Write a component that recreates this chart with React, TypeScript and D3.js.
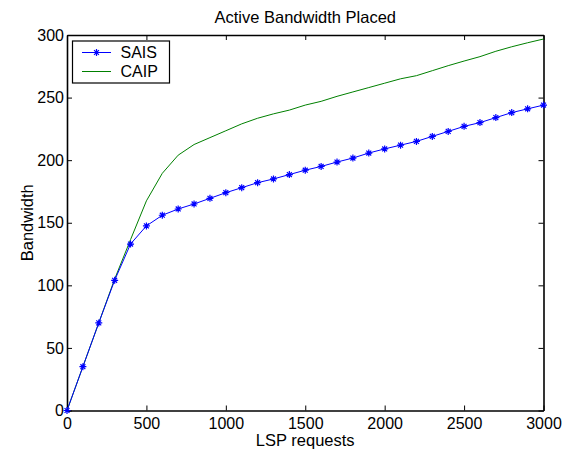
import React, { useEffect, useRef } from "react";
import * as d3 from "d3";

// LSP requests (x) and placed bandwidth for each scheme
const requests = [
  0, 100, 200, 300, 400, 500, 600, 700, 800, 900, 1000, 1100, 1200, 1300, 1400,
  1500, 1600, 1700, 1800, 1900, 2000, 2100, 2200, 2300, 2400, 2500, 2600, 2700,
  2800, 2900, 3000,
];
const sais = [
  0, 35, 70, 104, 133, 147.5, 156, 161, 165, 169.5, 174, 178, 182, 185, 188.5,
  192, 195, 198.5, 201.7, 205.7, 209, 212, 215, 219, 223, 227, 230, 234, 238,
  241, 244,
];
const caip = [
  0, 35, 70, 105, 136.5, 167.5, 189.5, 204, 212.5, 218, 223.5, 229, 233.5, 237,
  240, 244, 247, 251, 254.5, 258, 261.5, 265, 267.5, 271.5, 275.5, 279.2, 282.7,
  287, 290.6, 293.8, 296.8,
];
const xTicks = [0, 500, 1000, 1500, 2000, 2500, 3000];
const yTicks = [0, 50, 100, 150, 200, 250, 300];

const seriesNames = ["SAIS", "CAIP"];
const seriesColors = ["#0000ff", "#008000"];

const W = 575;
const H = 453;
const margin = { top: 35, right: 31.5, bottom: 42.5, left: 67 };
const font = "'Liberation Sans', Arial, Helvetica, sans-serif";

const App = () => {
  const svgRef = useRef(null);

  useEffect(() => {
    const svg = d3.select(svgRef.current);
    svg.selectAll("*").remove();

    const width = W - margin.left - margin.right;
    const height = H - margin.top - margin.bottom;

    const x = d3.scaleLinear().domain([0, 3000]).range([0, width]);
    const y = d3.scaleLinear().domain([0, 300]).range([height, 0]);

    svg
      .append("text")
      .attr("x", margin.left + width / 2)
      .attr("y", 23)
      .attr("text-anchor", "middle")
      .attr("font-family", font)
      .attr("font-size", 16.5)
      .text("Active Bandwidth Placed");

    const g = svg
      .append("g")
      .attr("transform", `translate(${margin.left},${margin.top})`);

    const styleAxis = (sel) => {
      sel.select(".domain").attr("stroke", "#000").attr("stroke-width", 1.6);
      sel.selectAll(".tick line").attr("stroke", "#000").attr("stroke-width", 1);
      sel
        .selectAll(".tick text")
        .attr("font-family", font)
        .attr("font-size", 16)
        .attr("fill", "#000");
    };

    const fmt = d3.format("d");

    g.append("g")
      .attr("transform", `translate(0,${height})`)
      .call(
        d3
          .axisBottom(x)
          .tickValues(xTicks)
          .tickFormat(fmt)
          .tickSizeInner(-5)
          .tickSizeOuter(0)
          .tickPadding(7)
      )
      .call(styleAxis);
    g.append("g")
      .call(
        d3.axisTop(x).tickValues(xTicks).tickSizeInner(-5).tickSizeOuter(0).tickFormat(() => "")
      )
      .call(styleAxis);
    g.append("g")
      .call(
        d3
          .axisLeft(y)
          .tickValues(yTicks)
          .tickFormat(fmt)
          .tickSizeInner(-5)
          .tickSizeOuter(0)
          .tickPadding(3)
      )
      .call(styleAxis);
    g.append("g")
      .attr("transform", `translate(${width},0)`)
      .call(
        d3.axisRight(y).tickValues(yTicks).tickSizeInner(-5).tickSizeOuter(0).tickFormat(() => "")
      )
      .call(styleAxis);

    // axis labels
    svg
      .append("text")
      .attr("x", margin.left + width / 2)
      .attr("y", 446)
      .attr("text-anchor", "middle")
      .attr("font-family", font)
      .attr("font-size", 16.5)
      .text("LSP requests");
    svg
      .append("text")
      .attr("transform", `translate(33,${margin.top + height / 2}) rotate(-90)`)
      .attr("text-anchor", "middle")
      .attr("font-family", font)
      .attr("font-size", 16.5)
      .text("Bandwidth");

    const line = d3
      .line()
      .x((d) => x(d[0]))
      .y((d) => y(d[1]));

    const star = (r) =>
      `M${-r},0L${r},0M0,${-r}L0,${r}M${-r * 0.7},${-r * 0.7}L${r * 0.7},${r * 0.7}M${-r * 0.7},${r * 0.7}L${r * 0.7},${-r * 0.7}`;

    const saisPts = requests.map((r, i) => [r, sais[i]]);
    const caipPts = requests.map((r, i) => [r, caip[i]]);

    g.append("path")
      .attr("d", line(caipPts))
      .attr("fill", "none")
      .attr("stroke", seriesColors[1])
      .attr("stroke-width", 1);

    g.append("path")
      .attr("d", line(saisPts))
      .attr("fill", "none")
      .attr("stroke", seriesColors[0])
      .attr("stroke-width", 1);

    g.selectAll(".mk")
      .data(saisPts)
      .enter()
      .append("path")
      .attr("class", "mk")
      .attr("transform", (d) => `translate(${x(d[0])},${y(d[1])})`)
      .attr("d", star(3.5))
      .attr("stroke", seriesColors[0])
      .attr("stroke-width", 1.2)
      .attr("fill", "none");

    // legend
    const lg = svg.append("g");
    lg.append("rect")
      .attr("x", 72.5)
      .attr("y", 41)
      .attr("width", 97)
      .attr("height", 42)
      .attr("fill", "#fff")
      .attr("stroke", "#000")
      .attr("stroke-width", 1.2);
    seriesNames.forEach((name, i) => {
      const ly = 52.5 + i * 19;
      lg.append("line")
        .attr("x1", 82)
        .attr("x2", 111)
        .attr("y1", ly)
        .attr("y2", ly)
        .attr("stroke", seriesColors[i])
        .attr("stroke-width", 1);
      if (i === 0) {
        lg.append("path")
          .attr("transform", `translate(96.5,${ly})`)
          .attr("d", star(3.5))
          .attr("stroke", seriesColors[0])
          .attr("stroke-width", 1.2)
          .attr("fill", "none");
      }
      lg.append("text")
        .attr("x", 120.5)
        .attr("y", ly + 5.8)
        .attr("font-family", font)
        .attr("font-size", 16)
        .text(name);
    });
  }, []);

  return (
    <svg
      ref={svgRef}
      width={W}
      height={H}
      style={{ position: "absolute", left: 0, top: 0, background: "#fff" }}
    ></svg>
  );
};

export default App;
